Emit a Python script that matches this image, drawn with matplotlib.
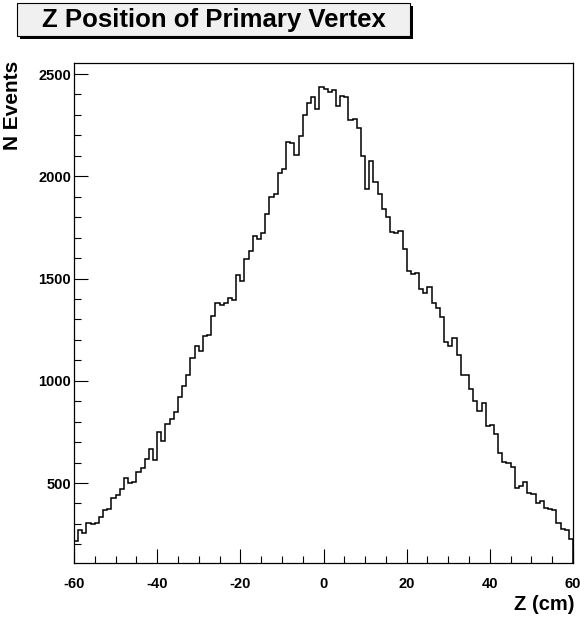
import numpy as np
import matplotlib
matplotlib.use("Agg")
import matplotlib.pyplot as plt
from matplotlib.patches import Rectangle
from matplotlib.ticker import MultipleLocator

# bin edges of the histogram (1 cm bins from -60 to 60)
z_low = -60
z_high = 60
n_bins = 120

# counts per bin
counts = [
    218, 272, 256, 303, 300, 305, 333, 370, 374, 425,
    441, 469, 525, 502, 503, 556, 572, 620, 666, 613,
    751, 708, 787, 814, 847, 922, 975, 1027, 1113, 1169,
    1148, 1219, 1226, 1317, 1378, 1370, 1378, 1406, 1396, 1517,
    1490, 1595, 1635, 1708, 1693, 1723, 1815, 1900, 1913, 2015,
    2034, 2168, 2161, 2106, 2198, 2299, 2360, 2388, 2328, 2438,
    2428, 2412, 2421, 2342, 2394, 2386, 2275, 2280, 2237, 2100,
    1937, 2073, 1972, 1912, 1838, 1800, 1727, 1722, 1733, 1644,
    1539, 1523, 1526, 1449, 1430, 1457, 1379, 1356, 1310, 1188,
    1168, 1207, 1127, 1029, 1029, 959, 899, 850, 890, 777,
    782, 739, 647, 603, 600, 580, 474, 487, 503, 451,
    448, 402, 411, 379, 375, 370, 307, 273, 268, 225,
]

x_ticks = [-60, -40, -20, 0, 20, 40, 60]
y_ticks = [500, 1000, 1500, 2000, 2500]

title = "Z Position of Primary Vertex"
x_label = "Z (cm)"
y_label = "N Events"

plt.rcParams['font.family'] = ['Liberation Sans', 'DejaVu Sans']
plt.rcParams['font.weight'] = 'bold'
plt.rcParams['axes.unicode_minus'] = False

W, H = 580, 617
fig = plt.figure(figsize=(W / 100, H / 100), dpi=100)

ax = fig.add_axes([74 / W, 1 - 563 / H, (573 - 74) / W, (563 - 63) / H])

edges = np.linspace(z_low, z_high, n_bins + 1)
ax.stairs(counts, edges, baseline=0, color='black', linewidth=1.1)

ax.set_xlim(z_low, z_high)
ax.set_ylim(109, 2554)

ax.set_xticks(x_ticks)
ax.set_yticks(y_ticks)
ax.xaxis.set_minor_locator(MultipleLocator(5))
ax.yaxis.set_minor_locator(MultipleLocator(100))
ax.tick_params(which='both', direction='in', top=False, right=False,
               labelsize=10.5, width=0.8, color='black')
ax.tick_params(which='major', length=10)
ax.tick_params(which='minor', length=5)
ax.tick_params(axis='x', pad=10)
ax.tick_params(axis='y', pad=2)
for lbl in ax.get_xticklabels() + ax.get_yticklabels():
    lbl.set_fontweight('bold')

for s in ax.spines.values():
    s.set_linewidth(0.9)
    s.set_color('black')

# axis titles, placed like ROOT does
fig.text(574 / W, 1 - 604 / H, x_label, ha='right', va='center',
         fontsize=14.5, fontweight='bold')
fig.text(13 / W, 1 - 61 / H, y_label, ha='center', va='top', rotation=90,
         fontsize=15, fontweight='bold')

# title box with a shadow
shadow = Rectangle((20 / W, 1 - 39 / H), (410 - 17) / W, 33 / H,
                   transform=fig.transFigure, facecolor='black', edgecolor='none')
box = Rectangle((17 / W, 1 - 36 / H), (410 - 17) / W, 33 / H,
                transform=fig.transFigure, facecolor='#f0f0f0',
                edgecolor='black', linewidth=0.8)
fig.patches.extend([shadow, box])
fig.text(214 / W, 1 - 20 / H, title, ha='center', va='center',
         fontsize=18.5, fontweight='bold')

fig.savefig("out.png", dpi=100, facecolor='white')
